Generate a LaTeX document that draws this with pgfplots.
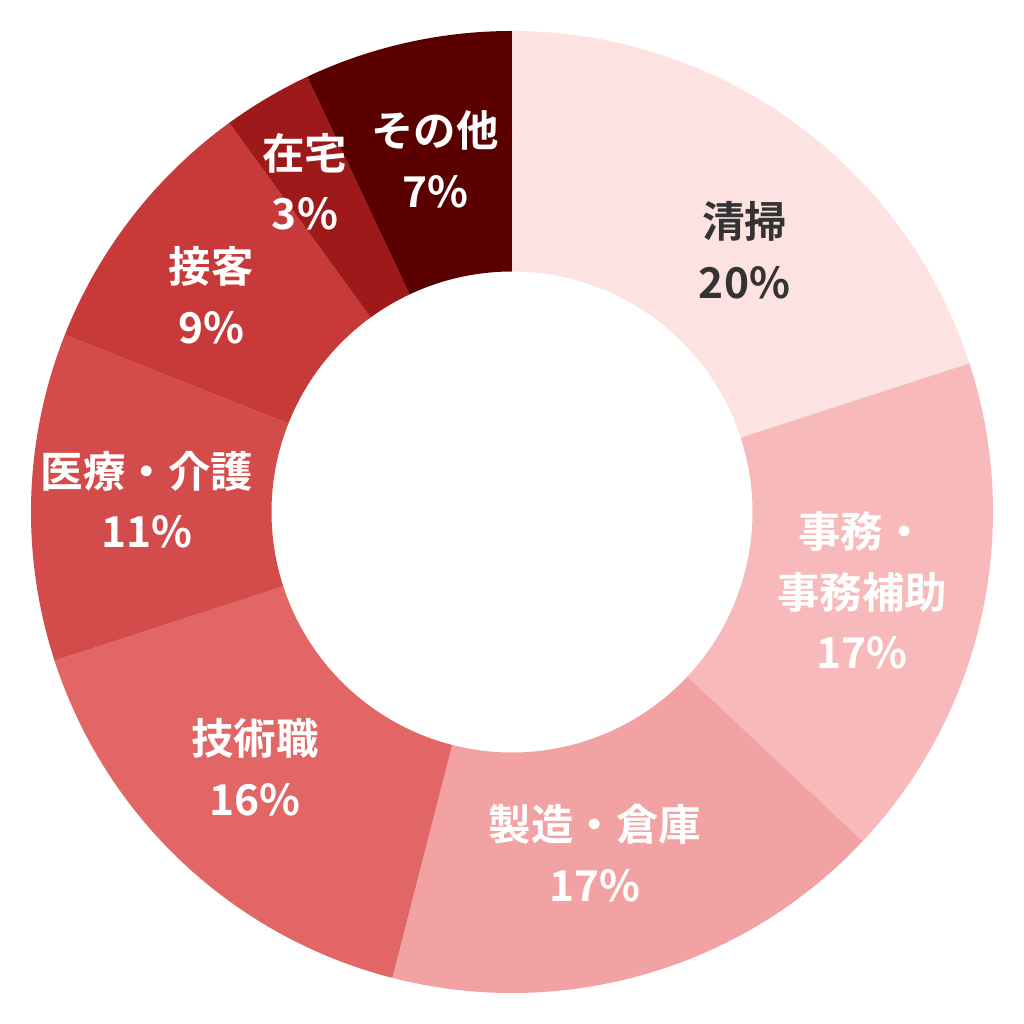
\documentclass[border=0pt]{standalone}
\usepackage{pgfplots}
\usepackage{pgfplotstable}
\pgfplotsset{compat=1.18}
\usepackage{fontspec}
\setmainfont{Noto Sans CJK JP}[BoldFont={* Bold}]
\newfontfamily\jp{Noto Sans CJK JP Bold}

\definecolor{c0}{HTML}{FDE2E2}
\definecolor{c1}{HTML}{F7B9B9}
\definecolor{c2}{HTML}{F2A2A2}
\definecolor{c3}{HTML}{E26666}
\definecolor{c4}{HTML}{D34B4B}
\definecolor{c5}{HTML}{C83A3A}
\definecolor{c6}{HTML}{9E1A1A}
\definecolor{c7}{HTML}{5A0000}
\definecolor{t0}{HTML}{333333}
\colorlet{t1}{white}\colorlet{t2}{white}\colorlet{t3}{white}
\colorlet{t4}{white}\colorlet{t5}{white}\colorlet{t6}{white}\colorlet{t7}{white}

% share of each job category (%), clockwise from 12 o'clock
% la, lr: angle and radius at which the label sits
\pgfplotstableread[col sep=comma]{
name,value,la,lr
清掃,20,48.4,0.728
事務・事務補助,17,-12.6,0.746
製造・倉庫,17,-76.3,0.73
技術職,16,224.8,0.753
医療・介護,11,178.1,0.759
接客,9,144.2,0.771
在宅,3,122.1,0.81
その他,7,102.3,0.75
}\jobdata

\expandafter\def\csname lab0\endcsname{清掃}
\expandafter\def\csname lab1\endcsname{事務・\\事務補助}
\expandafter\def\csname lab2\endcsname{製造・倉庫}
\expandafter\def\csname lab3\endcsname{技術職}
\expandafter\def\csname lab4\endcsname{医療・介護}
\expandafter\def\csname lab5\endcsname{接客}
\expandafter\def\csname lab6\endcsname{在宅}
\expandafter\def\csname lab7\endcsname{その他}

\def\R{4.697cm}

\begin{document}
\begin{tikzpicture}
% start/end angles from the cumulative shares
\def\cum{0}
\pgfplotsforeachungrouped \i in {0,...,7}{%
  \pgfplotstablegetelem{\i}{value}\of\jobdata
  \let\v\pgfplotsretval
  \pgfplotstablegetelem{\i}{lr}\of\jobdata
  \expandafter\xdef\csname r\i\endcsname{\pgfplotsretval}
  \pgfplotstablegetelem{\i}{la}\of\jobdata
  \expandafter\xdef\csname m\i\endcsname{\pgfplotsretval}
  \pgfmathsetmacro\s{90-3.6*\cum}
  \pgfmathsetmacro\cum{\cum+\v}
  \pgfmathsetmacro\e{90-3.6*\cum}
  \expandafter\xdef\csname s\i\endcsname{\s}
  \expandafter\xdef\csname e\i\endcsname{\e}
  \pgfmathtruncatemacro\vi{\v}
  \expandafter\xdef\csname v\i\endcsname{\vi}
}
\begin{axis}[
  x=\R, y=\R,
  xmin=-1.0644, xmax=1.0644,
  ymin=-1.0644, ymax=1.0644,
  hide axis, clip=false,
]
\path (axis cs:-1.0644,-1.0644) rectangle (axis cs:1.0644,1.0644);
\pgfplotsinvokeforeach{0,...,7}{
  \fill[c#1] (axis cs:{cos(\csname s#1\endcsname)},{sin(\csname s#1\endcsname)})
    arc[start angle=\csname s#1\endcsname, end angle=\csname e#1\endcsname, radius=\R]
    -- (axis cs:{0.5*cos(\csname e#1\endcsname)},{0.5*sin(\csname e#1\endcsname)})
    arc[start angle=\csname e#1\endcsname, end angle=\csname s#1\endcsname, radius=0.5*\R]
    -- cycle;
}
\pgfplotsinvokeforeach{0,...,7}{
  \node[align=center, text=t#1, font=\jp\fontsize{11.8}{16.8}\selectfont,
        inner sep=0pt]
    at (axis cs:{\csname r#1\endcsname*cos(\csname m#1\endcsname)},{\csname r#1\endcsname*sin(\csname m#1\endcsname)})
    {\csname lab#1\endcsname\\\csname v#1\endcsname\%};
}
\end{axis}
\end{tikzpicture}
\end{document}
